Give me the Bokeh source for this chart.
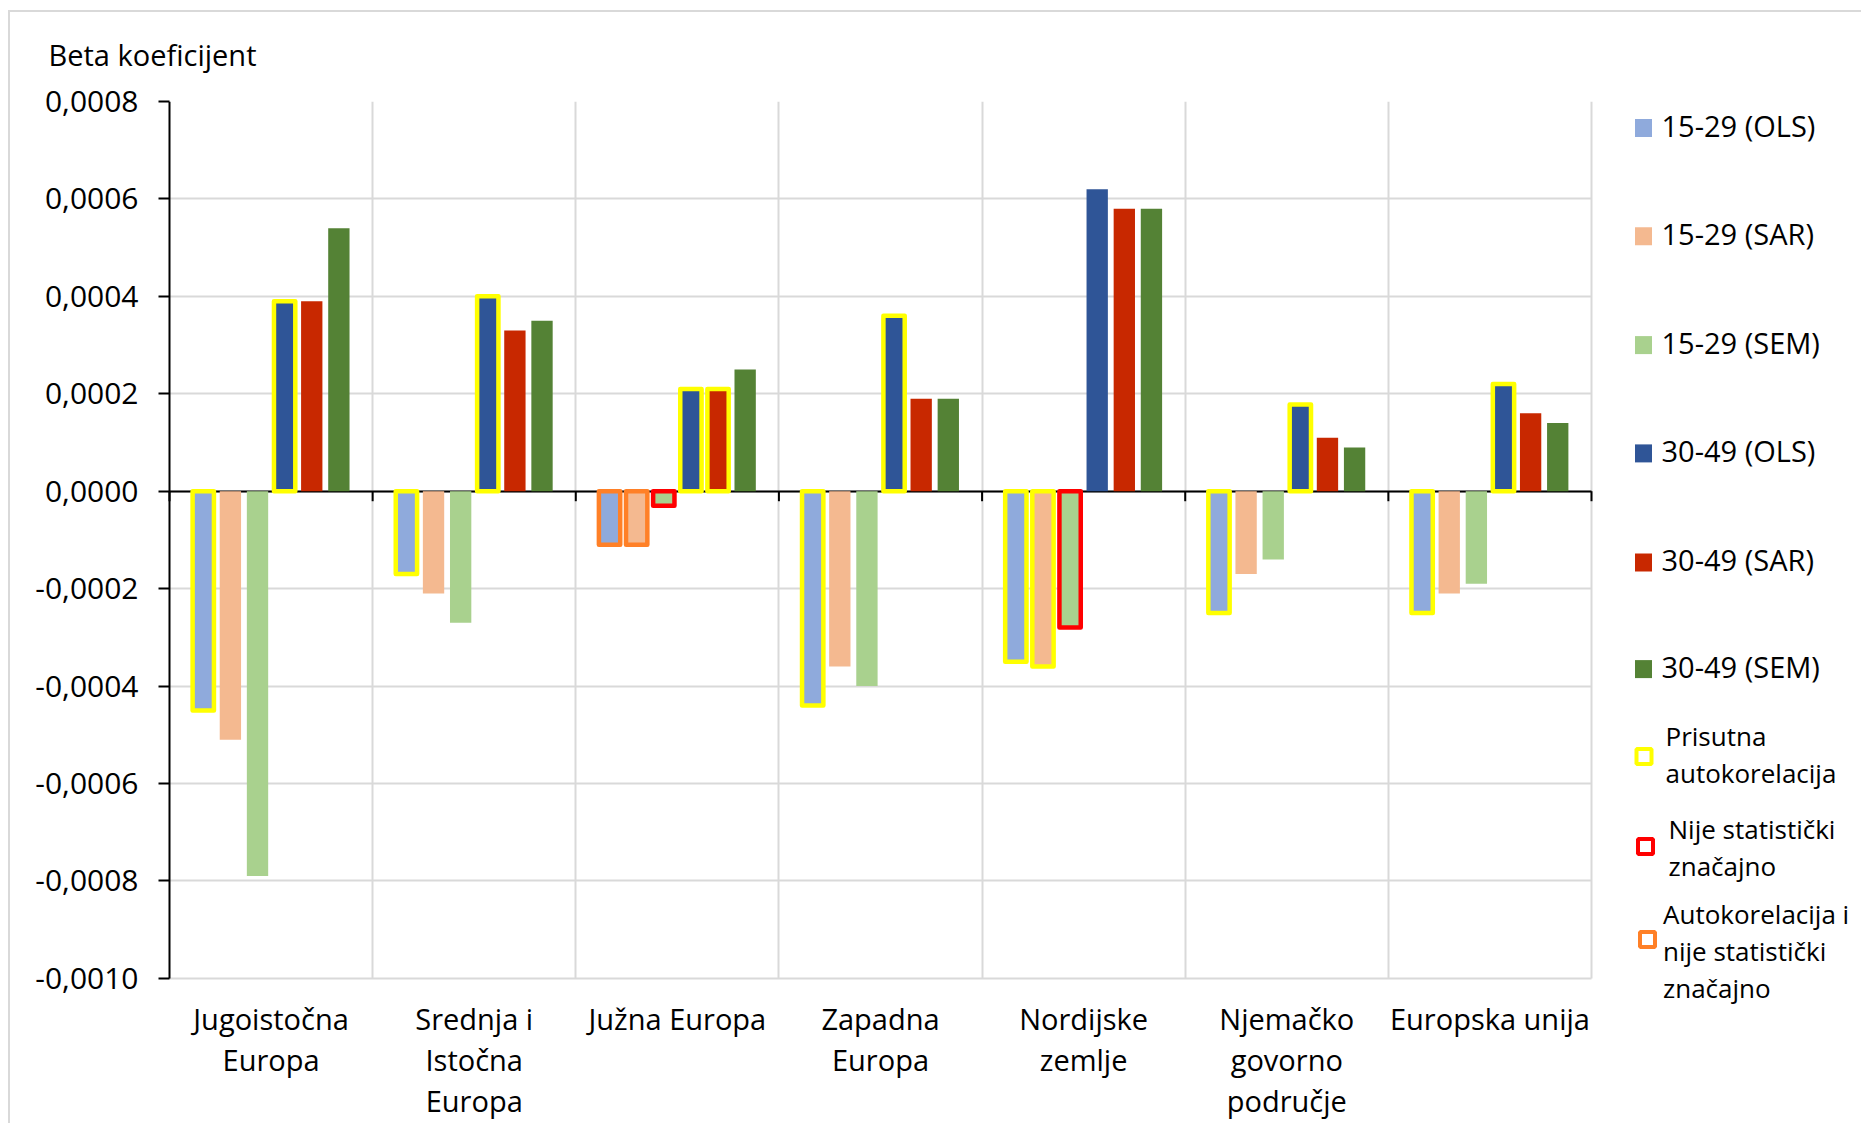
from bokeh.plotting import figure
from bokeh.models import Range1d, FixedTicker, CustomJSTickFormatter, Grid, ColumnDataSource
from bokeh.embed import file_html
from bokeh.resources import INLINE
from bokeh.core.properties import value

# ---------------- data ----------------
categories = ["Jugoistočna Europa", "Srednja i Istočna Europa", "Južna Europa",
              "Zapadna Europa", "Nordijske zemlje", "Njemačko govorno područje",
              "Europska unija"]
category_lines = [["Jugoistočna", "Europa"], ["Srednja i", "Istočna", "Europa"],
                  ["Južna Europa"], ["Zapadna", "Europa"], ["Nordijske", "zemlje"],
                  ["Njemačko", "govorno", "područje"], ["Europska unija"]]
series_names = ["15-29 (OLS)", "15-29 (SAR)", "15-29 (SEM)",
                "30-49 (OLS)", "30-49 (SAR)", "30-49  (SEM)"]

ols15 = [-0.00045, -0.00017, -0.00011, -0.00044, -0.00035, -0.00025, -0.00025]
sar15 = [-0.00051, -0.00021, -0.00011, -0.00036, -0.00036, -0.00017, -0.00021]
sem15 = [-0.00079, -0.00027, -0.00003, -0.00040, -0.00028, -0.00014, -0.00019]
ols30 = [0.00039, 0.00040, 0.00021, 0.00036, 0.00062, 0.000178, 0.00022]
sar30 = [0.00039, 0.00033, 0.00021, 0.00019, 0.00058, 0.00011, 0.00016]
sem30 = [0.00054, 0.00035, 0.00025, 0.00019, 0.00058, 0.00009, 0.00014]

# flags: "A" = prisutna autokorelacija, "N" = nije statisticki znacajno, "B" = oboje
f_ols15 = ["A", "A", "B", "A", "A", "A", "A"]
f_sar15 = ["", "", "B", "", "A", "", ""]
f_sem15 = ["", "", "N", "", "N", "", ""]
f_ols30 = ["A", "A", "A", "A", "", "A", "A"]
f_sar30 = ["", "", "A", "", "", "", ""]
f_sem30 = ["", "", "", "", "", "", ""]

flag_labels = [["Prisutna", "autokorelacija"], ["Nije statistički", "značajno"],
               ["Autokorelacija i", "nije statistički", "značajno"]]

y_ticks = [-0.0010, -0.0008, -0.0006, -0.0004, -0.0002, 0.0, 0.0002, 0.0004, 0.0006, 0.0008]
y_title = "Beta koeficijent"

# ---------------- layout / styles ----------------
FONT = "Open Sans"
series_colors = ["#8FAADC", "#F4B990", "#A9D18E", "#2F5597", "#C82800", "#548235"]
flag_colors = {"A": "#FFFF00", "N": "#FF0000", "B": "#FF8027"}
GRID = "#D9D9D9"

W, H = 1861, 1123
AXIS_X = 169          # pixel position of the value axis
FRAME_L = 166         # frame left edge (slightly left of the axis)
PLOT_R = 1591         # right edge of the category area
PLOT_T = 101          # pixel of top tick
PX_PER_STEP = 97.43   # pixels per 0.0002

series_vals = [ols15, sar15, sem15, ols30, sar30, sem30]
series_flags = [f_ols15, f_sar15, f_sem15, f_ols30, f_sar30, f_sem30]

n = len(categories)
ns = len(series_vals)
slot = 0.1335
bar_w = 0.105

cat_px = (PLOT_R - AXIS_X) / n
step = y_ticks[1] - y_ticks[0]
y_top = y_ticks[-1]
y_bot = y_top - (H - PLOT_T) / PX_PER_STEP * step
x_start = -(AXIS_X - FRAME_L) / cat_px
x_end = (W - AXIS_X) / cat_px

p = figure(width=W, height=H, x_range=Range1d(x_start, x_end),
           y_range=Range1d(y_bot, y_top),
           output_backend="svg", toolbar_location=None, x_axis_type=None,
           min_border_left=FRAME_L, min_border_right=0, min_border_top=PLOT_T,
           min_border_bottom=0)
p.outline_line_color = None
p.background_fill_color = "white"
p.border_fill_color = None
p.styles = {
    "background-color": "white",
    "background-image": "linear-gradient(#D9D9D9, #D9D9D9), linear-gradient(#D9D9D9, #D9D9D9)",
    "background-size": "100% 2px, 2px 100%",
    "background-position": "9px 10px, 8px 10px",
    "background-repeat": "no-repeat",
}
p.extra_x_ranges = {"px": Range1d(FRAME_L, W)}
p.extra_y_ranges = {"px": Range1d(H, PLOT_T)}

# title
p.title.text = y_title
p.title.align = "left"
p.title.offset = 48 - FRAME_L
p.title.standoff = 56
p.title.text_font = FONT
p.title.text_font_size = "29px"
p.title.text_font_style = "normal"
p.title.text_color = "black"

# grids (limited to the plot area)
p.ygrid.ticker = FixedTicker(ticks=y_ticks)
p.ygrid.grid_line_color = GRID
p.ygrid.grid_line_width = 2
p.ygrid.cross_bounds = (0, n)
p.add_layout(Grid(dimension=0, ticker=FixedTicker(ticks=list(range(1, n + 1))),
                  grid_line_color=GRID, grid_line_width=2,
                  cross_bounds=(y_ticks[0], y_ticks[-1])))

# y axis
ya = p.yaxis[0]
ya.ticker = FixedTicker(ticks=y_ticks)
ya.formatter = CustomJSTickFormatter(code="return tick.toFixed(4).replace('.', ',');")
ya.axis_line_color = None
ya.major_tick_line_color = "black"
ya.major_tick_line_width = 2
ya.major_tick_out = 8
ya.major_tick_in = AXIS_X - FRAME_L
ya.minor_tick_line_color = None
ya.major_label_standoff = 20
ya.major_label_text_font = FONT
ya.major_label_text_font_size = "30px"
ya.major_label_text_color = "black"

# bars
for j in range(ns):
    xs = [i + 0.5 + (j - (ns - 1) / 2) * slot for i in range(n)]
    src = ColumnDataSource(dict(x=xs, top=series_vals[j]))
    p.vbar(x="x", top="top", bottom=0, width=bar_w, source=src,
           fill_color=series_colors[j], line_color=None)

# outlines for flagged bars
ox, otop, ocol = [], [], []
for i in range(n):
    for j in range(ns):
        f = series_flags[j][i]
        if f:
            ox.append(i + 0.5 + (j - (ns - 1) / 2) * slot)
            otop.append(series_vals[j][i])
            ocol.append(flag_colors[f])
p.vbar(x=ox, top=otop, bottom=0, width=bar_w, fill_color=None,
       line_color=ocol, line_width=4.5, line_join="round")

# value axis line and zero (category) axis line with tick marks
p.add_layout(Grid(dimension=0, ticker=FixedTicker(ticks=[0]), grid_line_color="black",
                  grid_line_width=2, cross_bounds=(y_ticks[0], y_ticks[-1])))
p.add_layout(Grid(dimension=1, ticker=FixedTicker(ticks=[0]), grid_line_color="black",
                  grid_line_width=2, cross_bounds=(0, n)))
tick_len = step / PX_PER_STEP * 10
p.segment(x0=list(range(n + 1)), y0=[0] * (n + 1), x1=list(range(n + 1)),
          y1=[-tick_len] * (n + 1), line_color="black", line_width=2)

# category labels (pixel y via extra range)
cx, cy, ct = [], [], []
for i, lines in enumerate(category_lines):
    for k, t in enumerate(lines):
        cx.append(i + 0.5)
        cy.append(1018 + 41 * k)
        ct.append(t)
p.text(x=cx, y=cy, text=ct, y_range_name="px", text_align="center",
       text_baseline="middle", text_font=value(FONT), text_font_size="29px",
       text_color="black")

# ---------------- legend (pixel coordinates) ----------------
leg_y = [127.5, 235.7, 344.6, 452.9, 562, 668.6]
p.rect(x=[1643] * ns, y=leg_y, width=17, height=18, fill_color=series_colors,
       line_color=None, x_range_name="px", y_range_name="px")
p.text(x=[1661] * ns, y=[v - 3 for v in leg_y], text=series_names, text_font=value(FONT),
       text_font_size="29px", text_baseline="middle", text_color="black",
       x_range_name="px", y_range_name="px")

box_x = [1643.5, 1645, 1647]
box_y = [756, 846, 939]
p.rect(x=box_x, y=box_y, width=15, height=15, fill_color=None,
       line_color=[flag_colors["A"], flag_colors["N"], flag_colors["B"]], line_width=4,
       x_range_name="px", y_range_name="px")
lab_x = [1665, 1668, 1662.5]
lab_y0 = [735, 828, 913]
tx, ty, tt = [], [], []
for m, lines in enumerate(flag_labels):
    for k, t in enumerate(lines):
        tx.append(lab_x[m])
        ty.append(lab_y0[m] + 37 * k)
        tt.append(t)
p.text(x=tx, y=ty, text=tt, text_font=value(FONT), text_font_size="26px",
       text_baseline="middle", text_color="black", x_range_name="px", y_range_name="px")

open("out.html", "w").write(file_html(p, INLINE))
